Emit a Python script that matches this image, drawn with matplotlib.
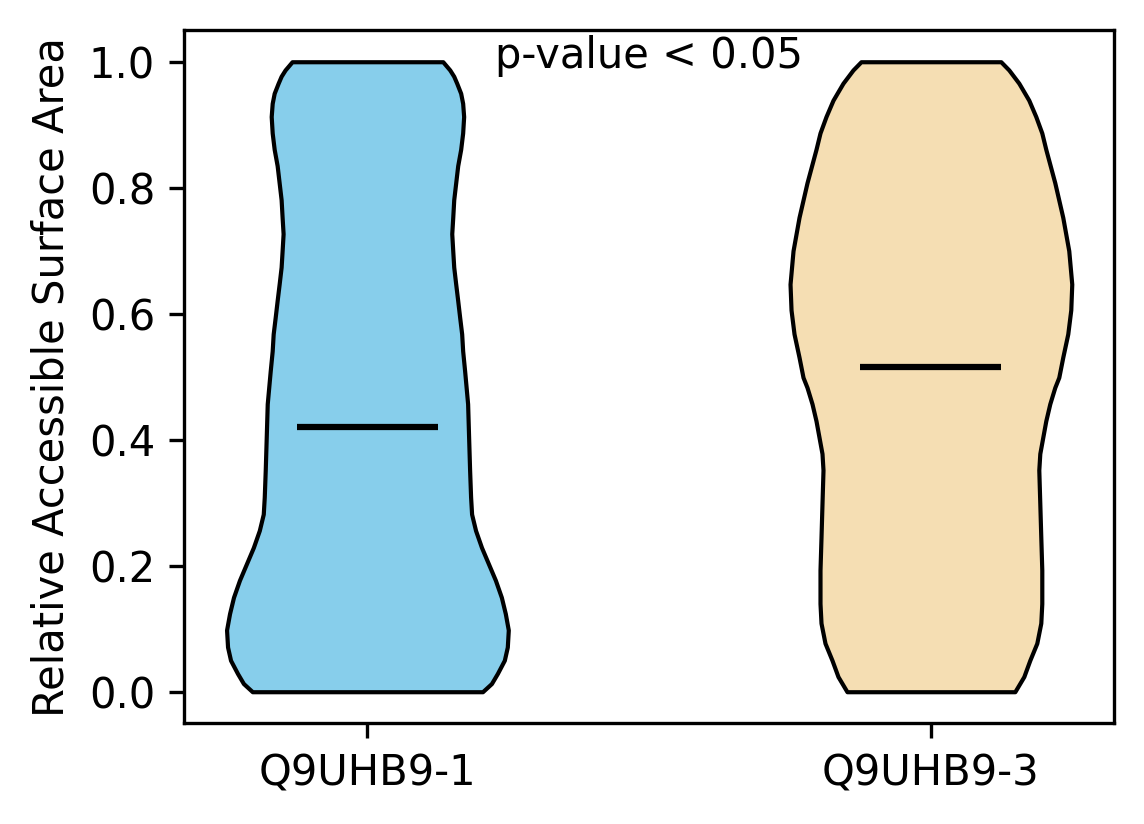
import matplotlib
matplotlib.use("Agg")
import matplotlib.pyplot as plt
import numpy as np

# violin outlines: y value and relative half-width
labels = ["Q9UHB9-1", "Q9UHB9-3"]
colors = ["skyblue", "wheat"]

y_1 = [0.0, 0.013, 0.029, 0.050, 0.071, 0.098, 0.124, 0.150, 0.177, 0.203,
       0.229, 0.256, 0.282, 0.309, 0.352, 0.404, 0.457, 0.509, 0.541, 0.568,
       0.594, 0.621, 0.647, 0.674, 0.700, 0.727, 0.753, 0.781, 0.808, 0.835,
       0.861, 0.887, 0.913, 0.934, 0.950, 0.966, 0.977, 0.987, 1.0]
width_1 = [116, 125, 131, 138, 141, 142, 139, 135, 129, 122,
           115, 109, 105, 104, 103, 102, 101, 98, 96, 95,
           93, 91, 89, 87, 86, 85, 86, 87, 89, 91,
           94, 96, 97, 96, 94, 90, 87, 83, 76]
mean_1 = 0.42

y_3 = [0.0, 0.024, 0.050, 0.077, 0.109, 0.140, 0.193, 0.245, 0.299, 0.352,
       0.378, 0.404, 0.430, 0.457, 0.483, 0.499, 0.531, 0.568, 0.606, 0.647,
       0.700, 0.753, 0.808, 0.861, 0.887, 0.913, 0.939, 0.966, 0.987, 1.0]
width_3 = [84, 93, 99, 106, 110, 111, 111, 110, 109, 108,
           109, 112, 115, 119, 124, 128, 132, 137, 140, 141,
           138, 132, 124, 115, 111, 105, 98, 88, 78, 70]
mean_3 = 0.516


def stats(y, w, m):
    return {"coords": np.array(y), "vals": np.array(w, dtype=float),
            "mean": m, "median": m, "min": min(y), "max": max(y)}


fig = plt.figure(figsize=(1144 / 300, 824 / 300), dpi=300)
ax = fig.add_subplot(111)
fig.subplots_adjust(left=0.1611, right=0.9738, bottom=0.1223, top=0.9633)

parts = ax.violin([stats(y_1, width_1, mean_1), stats(y_3, width_3, mean_3)],
                  positions=[1, 2], widths=0.5,
                  showmeans=True, showextrema=False, showmedians=False)
for body, c in zip(parts["bodies"], colors):
    body.set_facecolor(c)
    body.set_edgecolor("black")
    body.set_linewidth(1.0)
    body.set_alpha(1)
parts["cmeans"].set_color("black")
parts["cmeans"].set_linewidth(1.5)

ax.set_xticks([1, 2])
ax.set_xticklabels(labels)
ax.set_ylabel("Relative Accessible Surface Area")
ax.text(1.5, 0.99, "p-value < 0.05", ha="center", va="baseline")

fig.savefig("out.png", dpi=300)
